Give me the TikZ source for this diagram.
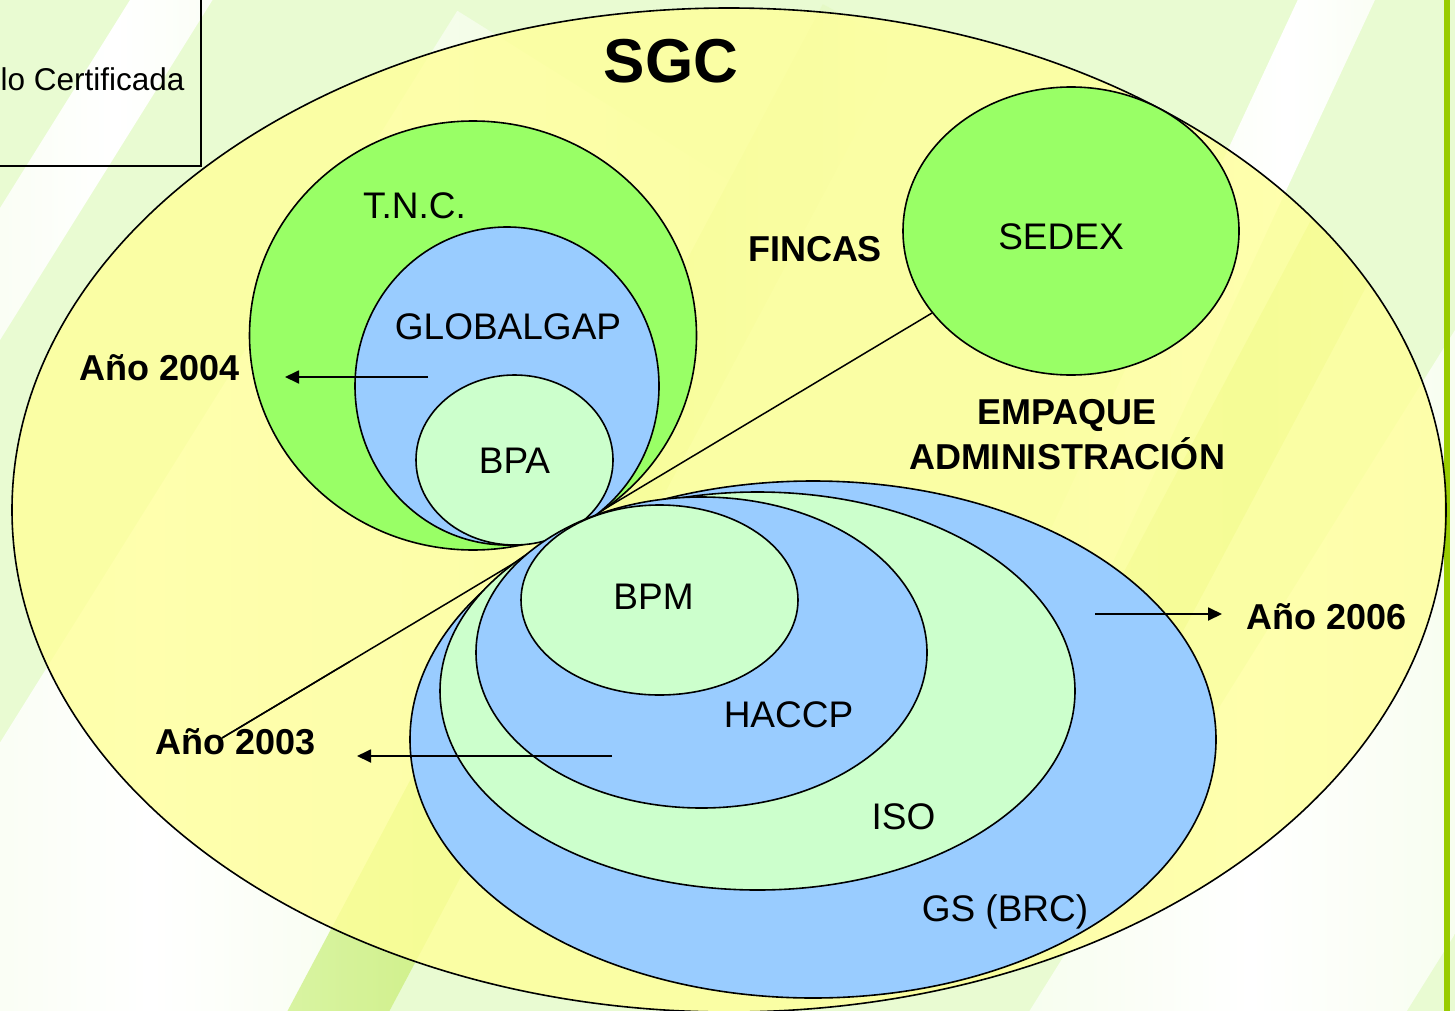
\documentclass[tikz,border=0pt]{standalone}
\usepackage{fontspec}
\setmainfont{Liberation Sans}
\usetikzlibrary{arrows.meta,calc}
\definecolor{bgg}{HTML}{E9FBD2}
\definecolor{streakg}{HTML}{D0F08A}
\definecolor{sgcyellow}{HTML}{FFFF99}
\definecolor{lgreen}{HTML}{99FF66}
\definecolor{lblue}{HTML}{99CCFF}
\definecolor{pgreen}{HTML}{CCFFCC}
\definecolor{barg}{HTML}{99CC00}
\begin{document}
\begin{tikzpicture}[x=1pt,y=-1pt,
  shapeline/.style={draw=black,line width=1.6pt},
  lbl/.style={font=\fontsize{37}{44}\selectfont,inner sep=0pt,anchor=base},
  bl/.style={font=\fontsize{36}{44}\selectfont\bfseries,inner sep=0pt,anchor=base},
  arr/.style={line width=1.8pt,-{Triangle[length=14pt,width=13pt]}},
  wstreak/.style={left color=bgg,right color=bgg,middle color=white},
  gstreak/.style={left color=bgg,right color=bgg,middle color=streakg}]
\useasboundingbox (0,0) rectangle (1455,1011);
\clip (0,0) rectangle (1455,1011);
% background
\fill[bgg] (0,0) rectangle (1455,1011);
\begin{scope}[shift={(115,90)},rotate=-32]
  \shade[wstreak] (-35,-900) rectangle (35,900);
\end{scope}
\begin{scope}[shift={(1285,110)},rotate=-25]
  \shade[wstreak] (-35,-900) rectangle (35,900);
\end{scope}
\begin{scope}[shift={(150,880)},rotate=-32]
  \shade[wstreak] (-200,-900) rectangle (200,900);
\end{scope}
\begin{scope}[shift={(1250,960)},rotate=-32]
  \shade[wstreak] (-160,-900) rectangle (160,900);
\end{scope}
\begin{scope}[shift={(440,820)},rotate=-28]
  \shade[gstreak] (-45,-900) rectangle (45,900);
\end{scope}
\begin{scope}
  \clip (729,510) ellipse [x radius=717pt,y radius=502pt];
  \begin{scope}[shift={(1250,420)},rotate=-28]
    \shade[gstreak] (-40,-900) rectangle (40,900);
  \end{scope}
\end{scope}
% right green bar
\fill[barg] (1444,0) rectangle (1450,1011);
% top-left box
\draw[line width=1.8pt] (-10,-10) rectangle (201,166);
\node[font=\fontsize{31.5}{38}\selectfont,inner sep=0pt,anchor=base west] (cert) at (0.5,91) {lo Certificada};
% SGC ellipse
\fill[sgcyellow,opacity=0.8] (729,510) ellipse [x radius=717pt,y radius=502pt];
\draw[shapeline] (729,510) ellipse [x radius=717pt,y radius=502pt];
\node[font=\fontsize{62}{70}\selectfont\bfseries,inner sep=0pt,anchor=base] (sgc) at (671,83) {SGC};
% diagonal line
\coordinate (lineA) at (932,313);
\coordinate (lineB) at (222,738);
\draw[line width=1.5pt] (lineA) -- (lineB);
% upper group
\draw[shapeline,fill=lgreen] (473,335.5) ellipse [x radius=223.5pt,y radius=214.5pt];
\draw[shapeline,fill=lblue] (507,386) ellipse [x radius=152pt,y radius=159pt];
\draw[shapeline,fill=pgreen] (514.5,460) ellipse [x radius=98.5pt,y radius=85pt];
% lower group
\draw[shapeline,fill=lblue] (813,739.5) ellipse [x radius=403pt,y radius=258.5pt];
\draw[shapeline,fill=pgreen] (757.5,691) ellipse [x radius=317.5pt,y radius=199pt];
\draw[shapeline,fill=lblue] (701.5,652.5) ellipse [x radius=225.5pt,y radius=155.5pt];
\draw[shapeline,fill=pgreen] (659.5,600) ellipse [x radius=138.5pt,y radius=95pt];
% SEDEX
\draw[shapeline,fill=lgreen] (1071,231) ellipse [x radius=168pt,y radius=144pt];
% labels
\node[lbl] (tnc) at (414.5,218) {T.N.C.};
\node[lbl] (gg) at (508,339) {GLOBALGAP};
\node[lbl] (bpa) at (514.5,473) {BPA};
\node[lbl] (sedex) at (1061,249) {SEDEX};
\node[bl] (fincas) at (815,261) {FINCAS};
\node[bl] (empaque) at (1067,424) {EMPAQUE};
\node[bl] (admin) at (1067,469) {ADMINISTRACIÓN};
\node[bl] (a2004) at (160,380) {Año 2004};
\node[bl] (a2006) at (1326.5,629) {Año 2006};
\node[bl] (a2003) at (236,754) {Año 2003};
\node[lbl] (bpm) at (653.5,609) {BPM};
\node[lbl] (haccp) at (788.5,727) {HACCP};
\node[lbl] (iso) at (903.5,829) {ISO};
\node[lbl] (gs) at (1005,921) {GS (BRC)};
% line end over the Año 2003 label
\draw[line width=1.5pt] (lineB) -- ($(lineB)!0.18!(lineA)$);
% arrows
\coordinate (s2004) at (428,377);
\coordinate (e2004) at (285,377);
\coordinate (s2003) at (612,756);
\coordinate (e2003) at (357,756);
\coordinate (s2006) at (1095,614);
\coordinate (e2006) at (1222,614);
\draw[arr] (s2004) -- (e2004);
\draw[arr] (s2003) -- (e2003);
\draw[arr] (s2006) -- (e2006);
\end{tikzpicture}
\end{document}
